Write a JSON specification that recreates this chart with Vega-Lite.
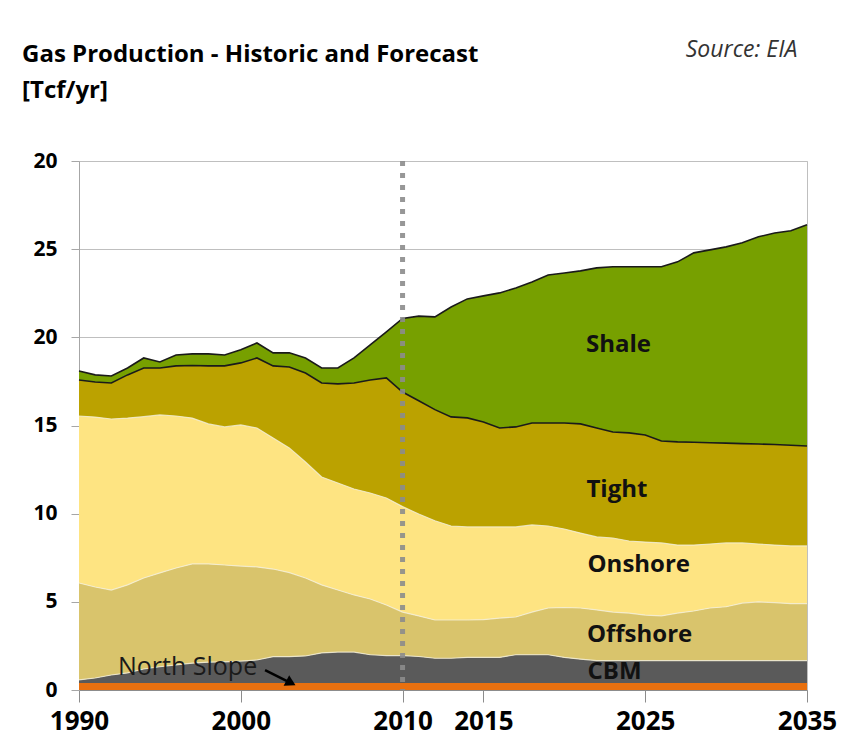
{
  "$schema": "https://vega.github.io/schema/vega-lite/v6.json",
  "width": 728,
  "height": 529,
  "autosize": {"type": "none"},
  "padding": {"left": 79, "top": 161, "right": 39, "bottom": 63},
  "background": "white",
  "config": {"view": {"stroke": "#BFBFBF"}, "font": "Open Sans"},
  "data": {
    "values": [
      {"year":1990,"source":"North Slope","value":0.4},{"year":1990,"source":"CBM","value":0.17},{"year":1990,"source":"Offshore","value":5.50},{"year":1990,"source":"Onshore","value":9.47},{"year":1990,"source":"Tight","value":2.04},{"year":1990,"source":"Shale","value":0.51},
      {"year":1991,"source":"North Slope","value":0.4},{"year":1991,"source":"CBM","value":0.28},{"year":1991,"source":"Offshore","value":5.16},{"year":1991,"source":"Onshore","value":9.64},{"year":1991,"source":"Tight","value":1.99},{"year":1991,"source":"Shale","value":0.40},
      {"year":1992,"source":"North Slope","value":0.4},{"year":1992,"source":"CBM","value":0.45},{"year":1992,"source":"Offshore","value":4.82},{"year":1992,"source":"Onshore","value":9.70},{"year":1992,"source":"Tight","value":2.04},{"year":1992,"source":"Shale","value":0.40},
      {"year":1993,"source":"North Slope","value":0.4},{"year":1993,"source":"CBM","value":0.57},{"year":1993,"source":"Offshore","value":4.99},{"year":1993,"source":"Onshore","value":9.46},{"year":1993,"source":"Tight","value":2.45},{"year":1993,"source":"Shale","value":0.39},
      {"year":1994,"source":"North Slope","value":0.4},{"year":1994,"source":"CBM","value":0.79},{"year":1994,"source":"Offshore","value":5.16},{"year":1994,"source":"Onshore","value":9.15},{"year":1994,"source":"Tight","value":2.76},{"year":1994,"source":"Shale","value":0.57},
      {"year":1995,"source":"North Slope","value":0.4},{"year":1995,"source":"CBM","value":0.92},{"year":1995,"source":"Offshore","value":5.32},{"year":1995,"source":"Onshore","value":8.96},{"year":1995,"source":"Tight","value":2.66},{"year":1995,"source":"Shale","value":0.34},
      {"year":1996,"source":"North Slope","value":0.4},{"year":1996,"source":"CBM","value":1.02},{"year":1996,"source":"Offshore","value":5.50},{"year":1996,"source":"Onshore","value":8.62},{"year":1996,"source":"Tight","value":2.84},{"year":1996,"source":"Shale","value":0.62},
      {"year":1997,"source":"North Slope","value":0.4},{"year":1997,"source":"CBM","value":1.12},{"year":1997,"source":"Offshore","value":5.63},{"year":1997,"source":"Onshore","value":8.27},{"year":1997,"source":"Tight","value":2.98},{"year":1997,"source":"Shale","value":0.66},
      {"year":1998,"source":"North Slope","value":0.4},{"year":1998,"source":"CBM","value":1.18},{"year":1998,"source":"Offshore","value":5.57},{"year":1998,"source":"Onshore","value":7.94},{"year":1998,"source":"Tight","value":3.29},{"year":1998,"source":"Shale","value":0.68},
      {"year":1999,"source":"North Slope","value":0.4},{"year":1999,"source":"CBM","value":1.20},{"year":1999,"source":"Offshore","value":5.49},{"year":1999,"source":"Onshore","value":7.83},{"year":1999,"source":"Tight","value":3.46},{"year":1999,"source":"Shale","value":0.62},
      {"year":2000,"source":"North Slope","value":0.4},{"year":2000,"source":"CBM","value":1.24},{"year":2000,"source":"Offshore","value":5.39},{"year":2000,"source":"Onshore","value":8.00},{"year":2000,"source":"Tight","value":3.52},{"year":2000,"source":"Shale","value":0.74},
      {"year":2001,"source":"North Slope","value":0.4},{"year":2001,"source":"CBM","value":1.30},{"year":2001,"source":"Offshore","value":5.28},{"year":2001,"source":"Onshore","value":7.88},{"year":2001,"source":"Tight","value":3.97},{"year":2001,"source":"Shale","value":0.85},
      {"year":2002,"source":"North Slope","value":0.4},{"year":2002,"source":"CBM","value":1.49},{"year":2002,"source":"Offshore","value":4.97},{"year":2002,"source":"Onshore","value":7.43},{"year":2002,"source":"Tight","value":4.09},{"year":2002,"source":"Shale","value":0.74},
      {"year":2003,"source":"North Slope","value":0.4},{"year":2003,"source":"CBM","value":1.49},{"year":2003,"source":"Offshore","value":4.77},{"year":2003,"source":"Onshore","value":7.07},{"year":2003,"source":"Tight","value":4.59},{"year":2003,"source":"Shale","value":0.80},
      {"year":2004,"source":"North Slope","value":0.4},{"year":2004,"source":"CBM","value":1.53},{"year":2004,"source":"Offshore","value":4.42},{"year":2004,"source":"Onshore","value":6.58},{"year":2004,"source":"Tight","value":5.05},{"year":2004,"source":"Shale","value":0.85},
      {"year":2005,"source":"North Slope","value":0.4},{"year":2005,"source":"CBM","value":1.70},{"year":2005,"source":"Offshore","value":3.86},{"year":2005,"source":"Onshore","value":6.12},{"year":2005,"source":"Tight","value":5.33},{"year":2005,"source":"Shale","value":0.85},
      {"year":2006,"source":"North Slope","value":0.4},{"year":2006,"source":"CBM","value":1.75},{"year":2006,"source":"Offshore","value":3.52},{"year":2006,"source":"Onshore","value":6.07},{"year":2006,"source":"Tight","value":5.62},{"year":2006,"source":"Shale","value":0.90},
      {"year":2007,"source":"North Slope","value":0.4},{"year":2007,"source":"CBM","value":1.75},{"year":2007,"source":"Offshore","value":3.24},{"year":2007,"source":"Onshore","value":6.01},{"year":2007,"source":"Tight","value":6.01},{"year":2007,"source":"Shale","value":1.42},
      {"year":2008,"source":"North Slope","value":0.4},{"year":2008,"source":"CBM","value":1.60},{"year":2008,"source":"Offshore","value":3.16},{"year":2008,"source":"Onshore","value":6.01},{"year":2008,"source":"Tight","value":6.41},{"year":2008,"source":"Shale","value":1.99},
      {"year":2009,"source":"North Slope","value":0.4},{"year":2009,"source":"CBM","value":1.55},{"year":2009,"source":"Offshore","value":2.87},{"year":2009,"source":"Onshore","value":6.07},{"year":2009,"source":"Tight","value":6.81},{"year":2009,"source":"Shale","value":2.61},
      {"year":2010,"source":"North Slope","value":0.4},{"year":2010,"source":"CBM","value":1.55},{"year":2010,"source":"Offshore","value":2.47},{"year":2010,"source":"Onshore","value":5.98},{"year":2010,"source":"Tight","value":6.50},{"year":2010,"source":"Shale","value":4.17},
      {"year":2011,"source":"North Slope","value":0.4},{"year":2011,"source":"CBM","value":1.50},{"year":2011,"source":"Offshore","value":2.30},{"year":2011,"source":"Onshore","value":5.78},{"year":2011,"source":"Tight","value":6.42},{"year":2011,"source":"Shale","value":4.80},
      {"year":2012,"source":"North Slope","value":0.4},{"year":2012,"source":"CBM","value":1.40},{"year":2012,"source":"Offshore","value":2.17},{"year":2012,"source":"Onshore","value":5.63},{"year":2012,"source":"Tight","value":6.30},{"year":2012,"source":"Shale","value":5.26},
      {"year":2013,"source":"North Slope","value":0.4},{"year":2013,"source":"CBM","value":1.40},{"year":2013,"source":"Offshore","value":2.17},{"year":2013,"source":"Onshore","value":5.33},{"year":2013,"source":"Tight","value":6.19},{"year":2013,"source":"Shale","value":6.23},
      {"year":2014,"source":"North Slope","value":0.4},{"year":2014,"source":"CBM","value":1.45},{"year":2014,"source":"Offshore","value":2.12},{"year":2014,"source":"Onshore","value":5.28},{"year":2014,"source":"Tight","value":6.18},{"year":2014,"source":"Shale","value":6.75},
      {"year":2015,"source":"North Slope","value":0.4},{"year":2015,"source":"CBM","value":1.45},{"year":2015,"source":"Offshore","value":2.14},{"year":2015,"source":"Onshore","value":5.26},{"year":2015,"source":"Tight","value":5.95},{"year":2015,"source":"Shale","value":7.15},
      {"year":2016,"source":"North Slope","value":0.4},{"year":2016,"source":"CBM","value":1.45},{"year":2016,"source":"Offshore","value":2.23},{"year":2016,"source":"Onshore","value":5.17},{"year":2016,"source":"Tight","value":5.61},{"year":2016,"source":"Shale","value":7.66},
      {"year":2017,"source":"North Slope","value":0.4},{"year":2017,"source":"CBM","value":1.60},{"year":2017,"source":"Offshore","value":2.14},{"year":2017,"source":"Onshore","value":5.11},{"year":2017,"source":"Tight","value":5.67},{"year":2017,"source":"Shale","value":7.88},
      {"year":2018,"source":"North Slope","value":0.4},{"year":2018,"source":"CBM","value":1.60},{"year":2018,"source":"Offshore","value":2.42},{"year":2018,"source":"Onshore","value":4.94},{"year":2018,"source":"Tight","value":5.78},{"year":2018,"source":"Shale","value":8.00},
      {"year":2019,"source":"North Slope","value":0.4},{"year":2019,"source":"CBM","value":1.60},{"year":2019,"source":"Offshore","value":2.65},{"year":2019,"source":"Onshore","value":4.65},{"year":2019,"source":"Tight","value":5.84},{"year":2019,"source":"Shale","value":8.40},
      {"year":2020,"source":"North Slope","value":0.4},{"year":2020,"source":"CBM","value":1.45},{"year":2020,"source":"Offshore","value":2.83},{"year":2020,"source":"Onshore","value":4.45},{"year":2020,"source":"Tight","value":6.01},{"year":2020,"source":"Shale","value":8.51},
      {"year":2021,"source":"North Slope","value":0.4},{"year":2021,"source":"CBM","value":1.35},{"year":2021,"source":"Offshore","value":2.90},{"year":2021,"source":"Onshore","value":4.25},{"year":2021,"source":"Tight","value":6.19},{"year":2021,"source":"Shale","value":8.68},
      {"year":2022,"source":"North Slope","value":0.4},{"year":2022,"source":"CBM","value":1.27},{"year":2022,"source":"Offshore","value":2.87},{"year":2022,"source":"Onshore","value":4.14},{"year":2022,"source":"Tight","value":6.18},{"year":2022,"source":"Shale","value":9.08},
      {"year":2023,"source":"North Slope","value":0.4},{"year":2023,"source":"CBM","value":1.27},{"year":2023,"source":"Offshore","value":2.75},{"year":2023,"source":"Onshore","value":4.20},{"year":2023,"source":"Tight","value":6.01},{"year":2023,"source":"Shale","value":9.37},
      {"year":2024,"source":"North Slope","value":0.4},{"year":2024,"source":"CBM","value":1.27},{"year":2024,"source":"Offshore","value":2.69},{"year":2024,"source":"Onshore","value":4.09},{"year":2024,"source":"Tight","value":6.13},{"year":2024,"source":"Shale","value":9.42},
      {"year":2025,"source":"North Slope","value":0.4},{"year":2025,"source":"CBM","value":1.27},{"year":2025,"source":"Offshore","value":2.58},{"year":2025,"source":"Onshore","value":4.14},{"year":2025,"source":"Tight","value":6.07},{"year":2025,"source":"Shale","value":9.54},
      {"year":2026,"source":"North Slope","value":0.4},{"year":2026,"source":"CBM","value":1.27},{"year":2026,"source":"Offshore","value":2.53},{"year":2026,"source":"Onshore","value":4.14},{"year":2026,"source":"Tight","value":5.78},{"year":2026,"source":"Shale","value":9.88},
      {"year":2027,"source":"North Slope","value":0.4},{"year":2027,"source":"CBM","value":1.27},{"year":2027,"source":"Offshore","value":2.69},{"year":2027,"source":"Onshore","value":3.86},{"year":2027,"source":"Tight","value":5.85},{"year":2027,"source":"Shale","value":10.21},
      {"year":2028,"source":"North Slope","value":0.4},{"year":2028,"source":"CBM","value":1.27},{"year":2028,"source":"Offshore","value":2.81},{"year":2028,"source":"Onshore","value":3.74},{"year":2028,"source":"Tight","value":5.83},{"year":2028,"source":"Shale","value":10.74},
      {"year":2029,"source":"North Slope","value":0.4},{"year":2029,"source":"CBM","value":1.27},{"year":2029,"source":"Offshore","value":2.98},{"year":2029,"source":"Onshore","value":3.63},{"year":2029,"source":"Tight","value":5.74},{"year":2029,"source":"Shale","value":10.94},
      {"year":2030,"source":"North Slope","value":0.4},{"year":2030,"source":"CBM","value":1.27},{"year":2030,"source":"Offshore","value":3.05},{"year":2030,"source":"Onshore","value":3.62},{"year":2030,"source":"Tight","value":5.66},{"year":2030,"source":"Shale","value":11.13},
      {"year":2031,"source":"North Slope","value":0.4},{"year":2031,"source":"CBM","value":1.27},{"year":2031,"source":"Offshore","value":3.26},{"year":2031,"source":"Onshore","value":3.41},{"year":2031,"source":"Tight","value":5.63},{"year":2031,"source":"Shale","value":11.39},
      {"year":2032,"source":"North Slope","value":0.4},{"year":2032,"source":"CBM","value":1.27},{"year":2032,"source":"Offshore","value":3.33},{"year":2032,"source":"Onshore","value":3.28},{"year":2032,"source":"Tight","value":5.67},{"year":2032,"source":"Shale","value":11.75},
      {"year":2033,"source":"North Slope","value":0.4},{"year":2033,"source":"CBM","value":1.27},{"year":2033,"source":"Offshore","value":3.28},{"year":2033,"source":"Onshore","value":3.27},{"year":2033,"source":"Tight","value":5.70},{"year":2033,"source":"Shale","value":12.00},
      {"year":2034,"source":"North Slope","value":0.4},{"year":2034,"source":"CBM","value":1.27},{"year":2034,"source":"Offshore","value":3.23},{"year":2034,"source":"Onshore","value":3.27},{"year":2034,"source":"Tight","value":5.71},{"year":2034,"source":"Shale","value":12.16},
      {"year":2035,"source":"North Slope","value":0.4},{"year":2035,"source":"CBM","value":1.27},{"year":2035,"source":"Offshore","value":3.23},{"year":2035,"source":"Onshore","value":3.27},{"year":2035,"source":"Tight","value":5.67},{"year":2035,"source":"Shale","value":12.54}
    ]
  },
  "transform": [
    {"calculate": "indexof(['North Slope','CBM','Offshore','Onshore','Tight','Shale'], datum.source)", "as": "rank"},
    {"stack": "value", "groupby": ["year"], "sort": [{"field": "rank", "order": "ascending"}], "as": ["v0", "v1"]}
  ],
  "layer": [
    {
      "mark": {"type": "area", "interpolate": "linear"},
      "encoding": {
        "x": {
          "field": "year", "type": "quantitative",
          "scale": {"domain": [1990, 2035], "nice": false, "zero": false},
          "axis": {
            "values": [1990, 2000, 2010, 2015, 2025, 2035], "format": "d", "title": null, "grid": false,
            "labelFont": "Open Sans", "labelFontSize": 26, "labelFontWeight": "bold", "labelColor": "#000000",
            "tickSize": 12, "tickColor": "#8C8C8C", "domainColor": "#8C8C8C", "labelPadding": 6, "labelFlush": false
          }
        },
        "y": {
          "field": "v1", "type": "quantitative",
          "scale": {"domain": [0, 30], "nice": false},
          "axis": {
            "values": [0, 5, 10, 15, 20, 25, 30], "labelExpr": "datum.value == 30 ? '20' : datum.label", "title": null,
            "labelFont": "Open Sans", "labelFontSize": 21, "labelFontWeight": "bold", "labelColor": "#000000",
            "tickSize": 8, "tickColor": "#A6A6A6", "domainColor": "#A6A6A6", "gridColor": "#BFBFBF", "labelPadding": 14
          }
        },
        "y2": {"field": "v0"},
        "color": {
          "field": "source", "type": "nominal",
          "scale": {
            "domain": ["North Slope", "CBM", "Offshore", "Onshore", "Tight", "Shale"],
            "range": ["#E8700F", "#5A5A5A", "#D9C46C", "#FEE482", "#BBA200", "#77A000"]
          },
          "legend": null
        }
      }
    },
    {
      "transform": [{"filter": {"field": "source", "oneOf": ["CBM", "Offshore", "Onshore"]}}],
      "mark": {"type": "line", "stroke": "#F4EFD8", "strokeWidth": 1.2, "opacity": 0.8},
      "encoding": {
        "x": {"field": "year", "type": "quantitative"},
        "y": {"field": "v1", "type": "quantitative"},
        "detail": {"field": "source"}
      }
    },
    {
      "transform": [{"filter": {"field": "source", "oneOf": ["Tight", "Shale"]}}],
      "mark": {"type": "line", "stroke": "#1A1A1A", "strokeWidth": 1.6},
      "encoding": {
        "x": {"field": "year", "type": "quantitative"},
        "y": {"field": "v1", "type": "quantitative"},
        "detail": {"field": "source"}
      }
    },
    {
      "data": {"values": [{}]},
      "mark": {"type": "rule", "stroke": "#8C8C8C", "strokeWidth": 5, "strokeDash": [5, 7], "opacity": 0.9},
      "encoding": {"x": {"datum": 2010}}
    },
    {
      "data": {"values": [{}]},
      "mark": {"type": "text", "text": "Shale", "font": "Open Sans", "fontSize": 24, "fontWeight": "bold", "color": "#111111", "align": "center", "baseline": "alphabetic"},
      "encoding": {"x": {"datum": 2023.35}, "y": {"datum": 19.17}}
    },
    {
      "data": {"values": [{}]},
      "mark": {"type": "text", "text": "Tight", "font": "Open Sans", "fontSize": 24, "fontWeight": "bold", "color": "#111111", "align": "center", "baseline": "alphabetic"},
      "encoding": {"x": {"datum": 2023.25}, "y": {"datum": 10.95}}
    },
    {
      "data": {"values": [{}]},
      "mark": {"type": "text", "text": "Onshore", "font": "Open Sans", "fontSize": 24, "fontWeight": "bold", "color": "#111111", "align": "center", "baseline": "alphabetic"},
      "encoding": {"x": {"datum": 2024.6}, "y": {"datum": 6.69}}
    },
    {
      "data": {"values": [{}]},
      "mark": {"type": "text", "text": "Offshore", "font": "Open Sans", "fontSize": 24, "fontWeight": "bold", "color": "#111111", "align": "center", "baseline": "alphabetic"},
      "encoding": {"x": {"datum": 2024.65}, "y": {"datum": 2.72}}
    },
    {
      "data": {"values": [{}]},
      "mark": {"type": "text", "text": "CBM", "font": "Open Sans", "fontSize": 24, "fontWeight": "bold", "color": "#111111", "align": "center", "baseline": "alphabetic"},
      "encoding": {"x": {"datum": 2023.1}, "y": {"datum": 0.62}}
    },
    {
      "data": {"values": [{}]},
      "mark": {"type": "text", "text": "North Slope", "font": "Open Sans", "fontSize": 25, "color": "#1A1A1A", "align": "left", "baseline": "alphabetic"},
      "encoding": {"x": {"datum": 1992.41}, "y": {"datum": 0.85}}
    },
    {
      "data": {"values": [{}]},
      "mark": {"type": "rule", "stroke": "#000000", "strokeWidth": 2.5},
      "encoding": {"x": {"datum": 2001.5}, "y": {"datum": 1.13}, "x2": {"datum": 2002.86}, "y2": {"datum": 0.51}}
    },
    {
      "data": {"values": [{}]},
      "mark": {"type": "point", "shape": "triangle-right", "angle": 28, "size": 140, "filled": true, "color": "#000000", "opacity": 1},
      "encoding": {"x": {"datum": 2003.1}, "y": {"datum": 0.4}}
    },
    {
      "data": {"values": [{}]},
      "mark": {"type": "text", "text": "Gas Production - Historic and Forecast", "font": "Open Sans", "fontSize": 24, "fontWeight": "bold", "color": "#000000", "align": "left", "baseline": "alphabetic"},
      "encoding": {"x": {"datum": 1986.48}, "y": {"datum": 35.6}}
    },
    {
      "data": {"values": [{}]},
      "mark": {"type": "text", "text": "[Tcf/yr]", "font": "Open Sans", "fontSize": 24, "fontWeight": "bold", "color": "#000000", "align": "left", "baseline": "alphabetic"},
      "encoding": {"x": {"datum": 1986.48}, "y": {"datum": 33.57}}
    },
    {
      "data": {"values": [{}]},
      "mark": {"type": "text", "text": "Source: EIA", "font": "Open Sans", "fontSize": 23, "fontStyle": "italic", "color": "#333333", "align": "right", "baseline": "alphabetic"},
      "encoding": {"x": {"datum": 2034.4}, "y": {"datum": 35.9}}
    }
  ]
}
